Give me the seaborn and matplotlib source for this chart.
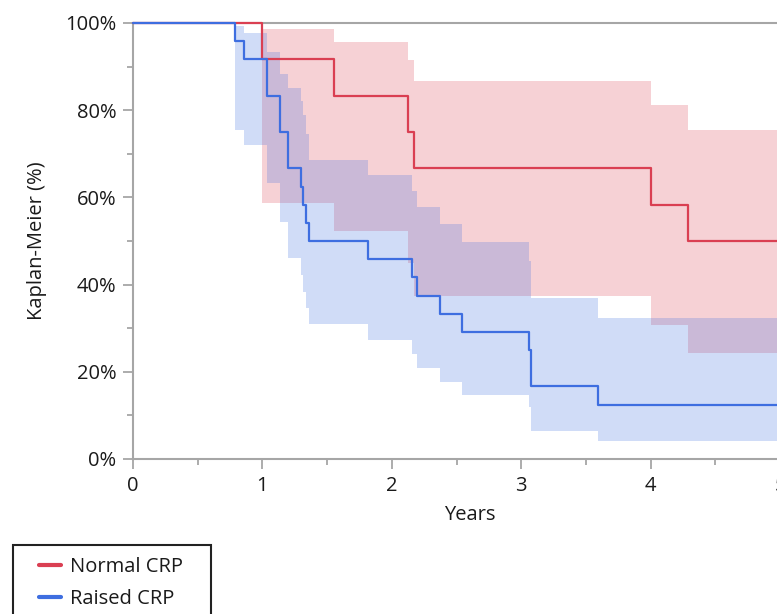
import numpy as np
import pandas as pd
import matplotlib
matplotlib.use("Agg")
import matplotlib.pyplot as plt
import seaborn as sns
from matplotlib.ticker import MultipleLocator, FuncFormatter
from matplotlib.patches import Rectangle

# ---------------- data ----------------
groups = ["Normal CRP", "Raised CRP"]

red_t = [0, 1.0, 1.553, 2.126, 2.175, 4.006, 4.29, 5.2]
red_s = [100, 91.7, 83.3, 75.0, 66.7, 58.3, 50.0, 50.0]

red_band_t = [1.0, 1.553, 2.126, 2.175, 4.006, 4.29, 5.2]
red_hi = [98.6, 95.6, 91.5, 86.8, 81.3, 75.4, 75.4]
red_lo = [58.7, 52.2, 44.9, 37.5, 30.7, 24.2, 24.2]

blue_t = [0, 0.79, 0.86, 1.036, 1.133, 1.198, 1.30, 1.31, 1.335, 1.36,
          1.814, 2.156, 2.195, 2.37, 2.54, 3.06, 3.077, 3.59, 5.2]
blue_s = [100, 95.8, 91.7, 83.3, 75.0, 66.7, 62.5, 58.3, 54.2, 50.0,
          45.8, 41.7, 37.5, 33.3, 29.2, 25.0, 16.7, 12.5, 12.5]

blue_band_t = [0.79, 0.86, 1.036, 1.133, 1.198, 1.30, 1.31, 1.335, 1.36,
               1.814, 2.156, 2.195, 2.37, 2.54, 3.06, 3.077, 3.59, 5.2]
blue_hi = [99.2, 97.6, 93.3, 88.2, 85.2, 82.2, 78.8, 74.5, 68.6,
           65.1, 61.5, 57.9, 53.8, 49.7, 45.5, 36.9, 32.3, 32.3]
blue_lo = [75.5, 72.0, 63.2, 54.4, 46.0, 42.2, 38.4, 34.6, 31.0,
           27.4, 24.0, 20.9, 17.7, 14.7, 11.9, 6.5, 4.2, 4.2]

x_ticks = [0, 1, 2, 3, 4, 5]
y_ticks = [0, 20, 40, 60, 80, 100]

colors = {"Normal CRP": "#DA3F52", "Raised CRP": "#3E6EE0"}

# ---------------- figure ----------------
sns.set_style("white")
plt.rcParams["font.family"] = ["Open Sans", "DejaVu Sans"]
FS = 14.5

W, H = 777, 614
fig = plt.figure(figsize=(W / 100, H / 100), dpi=100)
ax_left, ax_bottom = 133 / W, (H - 459) / H
ppy = 129.4  # pixels per year
xmax = 5.2
ax = fig.add_axes([ax_left, ax_bottom, xmax * ppy / W, (459 - 23) / H])

# confidence bands
ax.fill_between(red_band_t, red_lo, red_hi, step="post",
                color=colors["Normal CRP"], alpha=0.24, lw=0, zorder=1)
ax.fill_between(blue_band_t, blue_lo, blue_hi, step="post",
                color=colors["Raised CRP"], alpha=0.24, lw=0, zorder=1)

df = pd.concat([
    pd.DataFrame({"Years": red_t, "Survival": red_s, "Group": groups[0]}),
    pd.DataFrame({"Years": blue_t, "Survival": blue_s, "Group": groups[1]}),
], ignore_index=True)

sns.lineplot(data=df, x="Years", y="Survival", hue="Group", palette=colors,
             hue_order=groups, estimator=None, sort=True,
             drawstyle="steps-post", lw=1.6, ax=ax, zorder=4)
for ln in ax.lines:
    ln.set_clip_on(False)

ax.set_xlim(0, xmax)
ax.set_ylim(0, 100)
ax.set_xticks(x_ticks)
ax.set_yticks(y_ticks)
ax.xaxis.set_minor_locator(MultipleLocator(0.5))
ax.yaxis.set_minor_locator(MultipleLocator(10))
ax.yaxis.set_major_formatter(FuncFormatter(lambda v, p: f"{v:.0f}%"))

spine_c = "#A6A6A6"
for s in ["left", "bottom", "top"]:
    ax.spines[s].set_color(spine_c)
    ax.spines[s].set_linewidth(1.5)
    ax.spines[s].set_zorder(3)
ax.spines["right"].set_visible(False)

ax.tick_params(which="major", direction="out", length=7, width=1.3,
               color=spine_c, labelsize=FS, labelcolor="#1a1a1a",
               bottom=True, left=True, pad=5)
ax.tick_params(which="minor", direction="out", length=4, width=1.3,
               color=spine_c, bottom=True, left=True)

ax.set_xlabel("Years", fontsize=FS, color="#1a1a1a", labelpad=7)
ax.set_ylabel("Kaplan-Meier (%)", fontsize=FS, color="#1a1a1a", labelpad=13)

# legend
handles, labels = ax.get_legend_handles_labels()
ax.get_legend().remove()
leg = fig.legend(handles, labels, loc="upper left",
                 bbox_to_anchor=(39 / W, 1 - 557 / H), frameon=False,
                 fontsize=FS, handlelength=1.1, handletextpad=0.45,
                 labelspacing=0.58, borderpad=0, borderaxespad=0)
for h in leg.legend_handles:
    h.set_linewidth(3)
for t in leg.get_texts():
    t.set_color("#1a1a1a")
fig.patches.append(Rectangle((12.5 / W, -0.05), 198.5 / W, (H - 545) / H + 0.05,
                             transform=fig.transFigure, fill=False,
                             edgecolor="#222222", lw=1.5))

fig.savefig("out.png", dpi=100)
